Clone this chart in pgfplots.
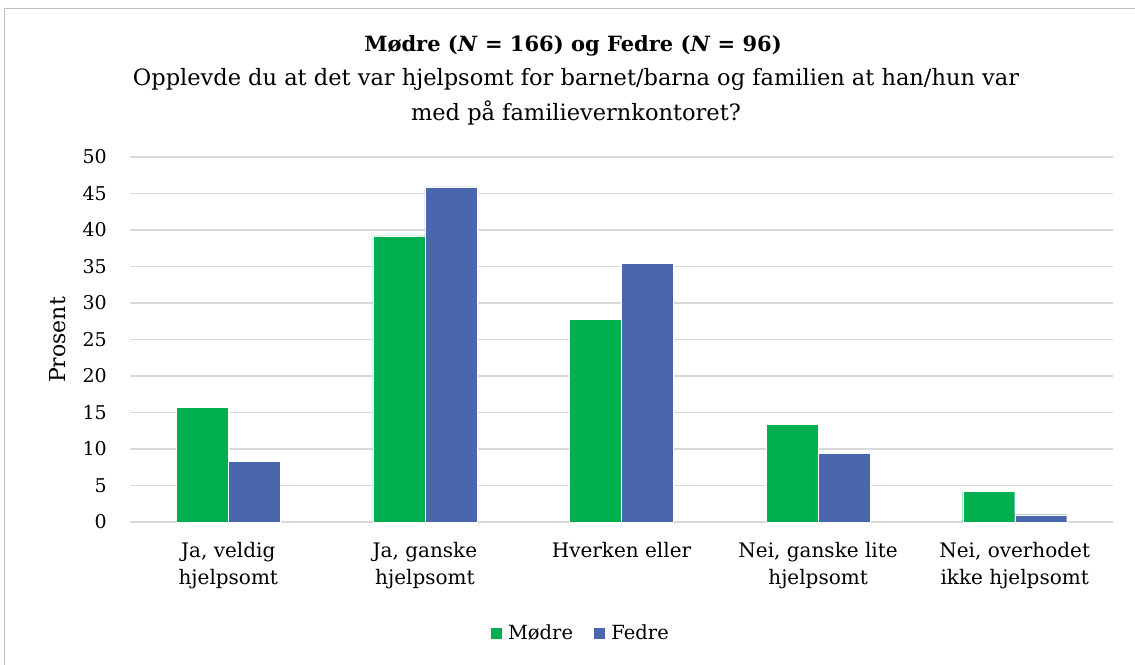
\documentclass[border=0pt]{standalone}
\usepackage{fontspec}
\setmainfont{DejaVu Serif}
\usepackage{pgfplots}
\pgfplotsset{compat=1.18}
\definecolor{mgreen}{HTML}{00AF50}
\definecolor{fblue}{HTML}{4A67AE}
\definecolor{gridc}{HTML}{D9D9D9}
\definecolor{framec}{HTML}{BFBFBF}
\pgfplotstableread{
x m f
0 15.7 8.3
1 39.2 45.9
2 27.8 35.4
3 13.4 9.4
4 4.2 1.0
}\datatab
\begin{document}
\begin{tikzpicture}[x=1pt,y=1pt]
\useasboundingbox (0,0) rectangle (1135,-664);
\fill[white] (0,0) rectangle (1135,-664);
\draw[framec, line width=1.2pt] (4.5,-680) -- (4.5,-8.5) -- (1150,-8.5);
\node[font=\fontsize{21}{25}\selectfont\bfseries] at (573,-46) {Mødre (\textit{N} = 166) og Fedre (\textit{N} = 96)};
\node[font=\fontsize{22.5}{35}\selectfont, align=center] at (576,-96.5) {Opplevde du at det var hjelpsomt for barnet/barna og familien at han/hun var\\med på familievernkontoret?};
\node[font=\fontsize{22}{25}\selectfont, rotate=90] at (58,-340) {Prosent};
\begin{axis}[
  at={(130pt,-522pt)}, anchor=south west,
  scale only axis, width=983pt, height=365pt,
  xmin=-0.5, xmax=4.5, ymin=0, ymax=50,
  ytick={0,5,...,50},
  xtick={0,1,2,3,4},
  xticklabels={{Ja, veldig\\hjelpsomt},{Ja, ganske\\hjelpsomt},{Hverken eller},{Nei, ganske lite\\hjelpsomt},{Nei, overhodet\\ikke hjelpsomt}},
  axis line style={draw=none},
  major tick length=0pt,
  ymajorgrids, grid style={gridc, line width=1.5pt},
  /pgf/number format/assume math mode=true,
  yticklabel style={font=\fontsize{19}{23}\selectfont, anchor=east, inner sep=0pt, xshift=-23pt},
  xticklabel style={font=\fontsize{20}{27}\selectfont, align=center, anchor=north, inner sep=0pt, yshift=-20pt},
  ybar=0pt, bar width=52pt,
  legend columns=2,
  legend style={draw=none, at={(0.458,-0.304)}, anchor=center, font=\fontsize{19.5}{23}\selectfont, /tikz/every even column/.append style={column sep=18pt}},
  legend image code/.code={\fill[#1] (0pt,-6pt) rectangle (12pt,6pt); \path (16pt,0pt);},
]
\addplot[fill=mgreen, draw=white, line width=0.4pt] table[x=x,y=m]{\datatab};
\addplot[fill=fblue, draw=white, line width=0.4pt] table[x=x,y=f]{\datatab};
\legend{Mødre, Fedre}
\end{axis}
\end{tikzpicture}
\end{document}
